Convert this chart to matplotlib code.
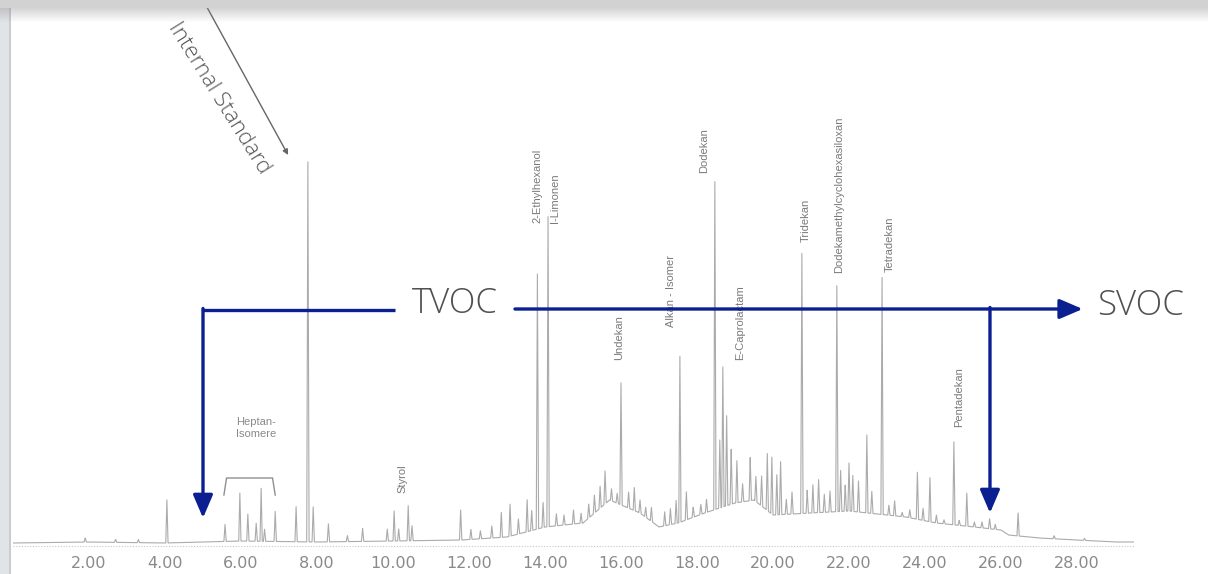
import numpy as np
import matplotlib
matplotlib.use("Agg")
import matplotlib.pyplot as plt
from matplotlib.patches import Rectangle

# ---------------- data (retention time in min, signal in arbitrary units) -------------
baseline_times = [0.0, 2.0, 4.0, 6.0, 8.0, 10.0, 11.8, 13.0, 14.0, 15.0, 15.7, 16.5,
                  17.0, 17.5, 18.2, 19.0, 19.5, 20.0, 21.0, 22.0, 23.0, 23.5, 24.3,
                  24.8, 25.3, 26.0, 26.2, 27.0, 28.0, 29.0, 29.5]
baseline_levels = [2, 3, 2, 4, 3, 4, 5, 8, 18, 22, 45, 32,
                   18, 22, 32, 42, 45, 30, 32, 34, 30, 28, 22,
                   20, 18, 15, 10, 7, 5, 3, 3]

peak_times = [1.9, 2.7, 3.3, 4.05, 5.58, 5.97, 6.18, 6.40, 6.53, 6.62, 6.90, 7.45,
              7.76, 7.90, 8.30, 8.8, 9.20, 9.85, 10.03, 10.15, 10.40, 10.50, 11.78,
              12.05, 12.3, 12.6, 12.85, 13.08, 13.3, 13.53, 13.65, 13.80, 13.95, 14.08,
              14.3, 14.5, 14.75, 14.95, 15.15, 15.3, 15.45, 15.58, 15.75, 15.9, 16.0,
              16.2, 16.35, 16.5, 16.65, 16.8, 17.15, 17.3, 17.45, 17.55, 17.72, 17.9,
              18.1, 18.25, 18.47, 18.6, 18.68, 18.78, 18.9, 19.05, 19.2, 19.4, 19.55,
              19.7, 19.85, 19.97, 20.1, 20.2, 20.35, 20.5, 20.76, 20.9, 21.05, 21.2,
              21.35, 21.5, 21.68, 21.78, 21.9, 22.0, 22.1, 22.25, 22.47, 22.6, 22.87,
              23.05, 23.2, 23.4, 23.6, 23.8, 23.95, 24.13, 24.3, 24.5, 24.76, 24.9,
              25.1, 25.3, 25.5, 25.7, 25.85, 26.45, 27.4, 28.2]
peak_heights = [4, 3, 3, 43, 17, 48, 27, 18, 53, 12, 30, 35,
                380, 35, 18, 6, 13, 12, 30, 12, 35, 15, 30,
                10, 8, 12, 25, 32, 15, 32, 20, 255, 25, 310,
                12, 10, 14, 10, 14, 18, 22, 33, 12, 10, 122,
                16, 23, 13, 10, 14, 14, 16, 23, 166, 28, 10,
                10, 13, 328, 68, 140, 90, 55, 42, 18, 43, 25,
                30, 57, 57, 40, 53, 15, 22, 260, 23, 28, 33,
                18, 21, 226, 41, 26, 48, 36, 31, 78, 22, 237,
                10, 15, 4, 8, 47, 12, 44, 8, 4, 83, 5,
                33, 5, 6, 10, 5, 23, 3, 2]

tick_values = [2, 4, 6, 8, 10, 12, 14, 16, 18, 20, 22, 24, 26, 28]
tick_labels = ["2.00", "4.00", "6.00", "8.00", "10.00", "12.00", "14.00", "16.00",
               "18.00", "20.00", "22.00", "24.00", "26.00", "28.00"]

compound_names = ["2-Ethylhexanol", "I-Limonen", "Undekan", "Alkan - Isomer", "Dodekan",
                  "E-Caprolactam", "Tridekan", "Dodekamethylcyclohexasiloxan",
                  "Tetradekan", "Pentadekan", "Styrol"]
compound_label_times = [13.79, 14.26, 15.95, 17.32, 18.18, 19.13, 20.87, 21.74, 23.08, 24.89, 10.24]
compound_label_levels = [322, 322, 185, 218, 372, 185, 303, 272, 273, 118, 52]

# ---------------- build trace ----------------
t = np.union1d(np.arange(0.0, 29.5, 0.004), peak_times)
trace = np.interp(t, baseline_times, baseline_levels)
w = 0.03
for pt, ph in zip(peak_times, peak_heights):
    trace = trace + ph * np.clip(1 - np.abs(t - pt) / w, 0, None)

W, H = 1208, 574
fig = plt.figure(figsize=(W / 100, H / 100), dpi=100)
fig.patch.set_facecolor("white")

# axes: t=0 at px 13, 38 px / min ; baseline at px 545 from top, 1 unit = 1 px
x0, xr = 13, 13 + 29.5 * 38
ybot, ytop = 555, 10
ax = fig.add_axes([x0 / W, (H - ybot) / H, (xr - x0) / W, (ybot - ytop) / H])
ax.set_xlim(0, 29.5)
ax.set_ylim(-10, 535)
for s in ax.spines.values():
    s.set_visible(False)
ax.set_yticks([])
ax.set_xticks(tick_values)
ax.set_xticklabels(tick_labels)
ax.tick_params(axis="x", length=0, pad=1, labelsize=11.5, labelcolor="#8a8a8a")
ax.set_facecolor("none")

# faint dotted x axis line
ax.axhline(-1, color="#c8c8c8", lw=0.8, ls=(0, (1, 1.5)), zorder=1)
ax.plot(t, trace, color="#ababab", lw=0.8, zorder=2)

# compound labels
for name, lt, lv in zip(compound_names, compound_label_times, compound_label_levels):
    ax.text(lt, lv, name, rotation=90, ha="center", va="bottom", fontsize=8,
            color="#7a7a7a", family="Liberation Sans")

# Heptan-Isomere label with bracket
ax.text(6.39, 117, "Heptan-\nIsomere", ha="center", va="center", fontsize=8,
        color="#8a8a8a", family="Liberation Sans", linespacing=1.35)
ax.plot([5.55, 5.62, 6.83, 6.90], [50, 67, 67, 50], color="#8f8f8f", lw=1.0)

# Internal Standard
ax.text(5.42, 447, "Internal Standard", rotation=-58, rotation_mode="anchor",
        ha="center", va="center", fontsize=16, color="#555555", family="Open Sans",
        fontweight="light", clip_on=False)
ax.annotate("", xy=(7.24, 390), xytext=(5.0, 545),
            arrowprops=dict(arrowstyle="-|>", color="#666666", lw=1.0,
                            mutation_scale=8, shrinkA=0, shrinkB=0),
            annotation_clip=False)

# TVOC / SVOC arrows
blue = "#0c1f91"
lw = 2.4
head = "-|>,head_length=0.7,head_width=0.3"
ax.plot([5.0, 10.05], [235, 235], color=blue, lw=lw, solid_capstyle="butt")
ax.annotate("", xy=(5.0, 27), xytext=(5.0, 236.5),
            arrowprops=dict(arrowstyle=head, color=blue,
                            lw=lw, mutation_scale=20, shrinkA=0, shrinkB=0))
ax.annotate("", xy=(28.15, 236), xytext=(13.21, 236),
            arrowprops=dict(arrowstyle=head, color=blue,
                            lw=lw, mutation_scale=20, shrinkA=0, shrinkB=0))
ax.annotate("", xy=(25.71, 32), xytext=(25.71, 237.5),
            arrowprops=dict(arrowstyle=head, color=blue,
                            lw=lw, mutation_scale=20, shrinkA=0, shrinkB=0))
ax.text(11.63, 241, "TVOC", ha="center", va="center", fontsize=25, color="#505050",
        family="Open Sans", fontweight="light")
ax.text(29.66, 239, "SVOC", ha="center", va="center", fontsize=25, color="#505050",
        family="Open Sans", fontweight="light", clip_on=False)

# screenshot frame: top bar with shadow, left strip
fig.add_artist(Rectangle((0, 1 - 8 / H), 1, 8 / H, transform=fig.transFigure,
                         facecolor="#d2d2d2", edgecolor="none", zorder=10))
for i in range(14):
    a = 0.35 * (1 - i / 14)
    fig.add_artist(Rectangle((0, 1 - (9 + i) / H), 1, 1 / H, transform=fig.transFigure,
                             facecolor="#888888", alpha=a, edgecolor="none", zorder=10))
fig.add_artist(Rectangle((0, 0), 9 / W, 1 - 8 / H, transform=fig.transFigure,
                         facecolor="#e1e4e7", edgecolor="none", zorder=9))
fig.add_artist(Rectangle((9 / W, 0), 2 / W, 1 - 8 / H, transform=fig.transFigure,
                         facecolor="#c9ccd0", edgecolor="none", zorder=9))

fig.savefig("out.png", dpi=100, facecolor="white")
